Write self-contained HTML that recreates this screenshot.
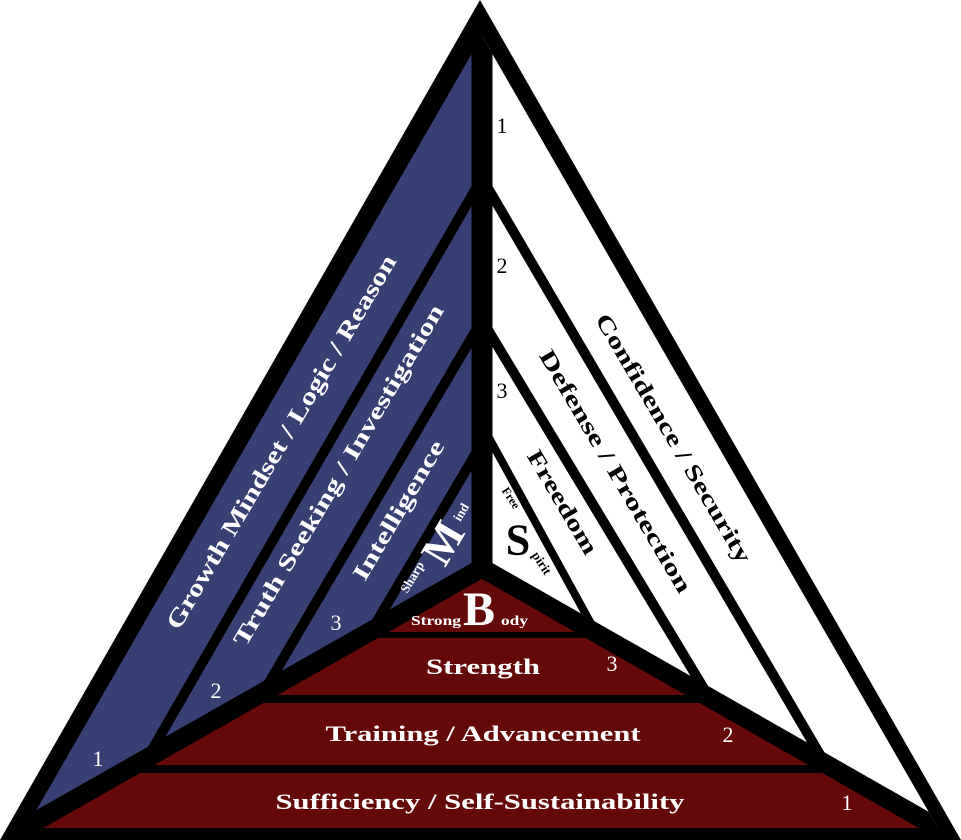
<!DOCTYPE html>
<html><head><meta charset="utf-8"><style>
html,body{margin:0;padding:0;background:#fff;width:961px;height:840px;overflow:hidden}
svg{display:block}
text{font-family:"Liberation Serif",serif;font-weight:bold}
.n{font-weight:normal;font-size:22px}
</style></head><body>
<svg width="961" height="840" viewBox="0 0 961 840">
<defs>
<clipPath id="in"><polygon points="26,828 482,36 938,828"/></clipPath>
<clipPath id="bl"><polygon points="482,0 482,568 0,840"/></clipPath>
<clipPath id="wh"><polygon points="482,0 961,840 482,568"/></clipPath>
<clipPath id="rd"><polygon points="0,840 482,568 961,840"/></clipPath>
</defs>
<polygon points="0,840 480,0 961,840" fill="#000"/>
<g clip-path="url(#in)">
<polygon points="482,0 482,568 0,840" fill="#383f73"/>
<polygon points="482,0 961,840 482,568" fill="#fff"/>
<polygon points="0,840 482,568 961,840" fill="#650808"/>
<g stroke="#000" fill="none" clip-path="url(#bl)">
<line x1="482" y1="178" x2="100" y2="840" stroke-width="10"/>
<line x1="482" y1="320" x2="200" y2="800" stroke-width="10"/>
<line x1="482" y1="443" x2="300" y2="752" stroke-width="10"/>
</g>
<g stroke="#000" fill="none" clip-path="url(#wh)">
<line x1="482" y1="178" x2="870" y2="840" stroke-width="10"/>
<line x1="482" y1="320" x2="780" y2="815" stroke-width="10"/>
<line x1="482" y1="425" x2="600" y2="640" stroke-width="8"/>
</g>
<g stroke="#000" fill="none" clip-path="url(#rd)">
<line x1="0" y1="635" x2="961" y2="635" stroke-width="6"/>
<line x1="0" y1="699" x2="961" y2="699" stroke-width="8"/>
<line x1="0" y1="769" x2="961" y2="769" stroke-width="8"/>
</g>
<g stroke="#000" fill="none">
<line x1="482" y1="0" x2="482" y2="570" stroke-width="21"/>
<line x1="482" y1="568" x2="10" y2="836" stroke-width="19"/>
<line x1="482" y1="568" x2="952" y2="836" stroke-width="19"/>
</g>
</g>
<g fill="#fff">
<text transform="translate(288,446) rotate(-59.5)" font-size="24" text-anchor="middle" textLength="430" lengthAdjust="spacingAndGlyphs">Growth Mindset / Logic / Reason</text>
<text transform="translate(345,479) rotate(-59.5)" font-size="23" text-anchor="middle" textLength="392" lengthAdjust="spacingAndGlyphs">Truth Seeking / Investigation</text>
<text transform="translate(405,514) rotate(-59.5)" font-size="23" text-anchor="middle" textLength="158" lengthAdjust="spacingAndGlyphs">Intelligence</text>
<text transform="translate(412,577) rotate(-59.5)" font-size="13" text-anchor="middle" dominant-baseline="central">Sharp</text>
<text transform="translate(443,543) rotate(-59.5)" font-size="44" text-anchor="middle" dominant-baseline="central">M</text>
<text transform="translate(461,512) rotate(-59.5)" font-size="13" text-anchor="middle" dominant-baseline="central">ind</text>
<text x="411" y="625" font-size="14" textLength="50" lengthAdjust="spacingAndGlyphs">Strong</text>
<text x="463" y="625" font-size="48">B</text>
<text x="501" y="625" font-size="14" textLength="27" lengthAdjust="spacingAndGlyphs">ody</text>
<text x="483" y="674" font-size="22" text-anchor="middle" textLength="114" lengthAdjust="spacingAndGlyphs">Strength</text>
<text x="483" y="741" font-size="22" text-anchor="middle" textLength="315" lengthAdjust="spacingAndGlyphs">Training / Advancement</text>
<text x="480" y="809" font-size="22" text-anchor="middle" textLength="409" lengthAdjust="spacingAndGlyphs">Sufficiency / Self-Sustainability</text>
<text class="n" x="98" y="766" text-anchor="middle">1</text>
<text class="n" x="216" y="698" text-anchor="middle">2</text>
<text class="n" x="336" y="630" text-anchor="middle">3</text>
<text class="n" x="612" y="671" text-anchor="middle">3</text>
<text class="n" x="728" y="742" text-anchor="middle">2</text>
<text class="n" x="847" y="810" text-anchor="middle">1</text>
</g>
<g fill="#000">
<text transform="translate(667,442) rotate(59.5)" font-size="23" text-anchor="middle" textLength="285" lengthAdjust="spacingAndGlyphs">Confidence / Security</text>
<text transform="translate(609,475) rotate(59.5)" font-size="23" text-anchor="middle" textLength="278" lengthAdjust="spacingAndGlyphs">Defense / Protection</text>
<text transform="translate(556,506) rotate(59.5)" font-size="23" text-anchor="middle" textLength="117" lengthAdjust="spacingAndGlyphs">Freedom</text>
<text transform="translate(511,498) rotate(57)" font-size="12" text-anchor="middle" dominant-baseline="central">Free</text>
<text x="518" y="540" font-size="44" text-anchor="middle" dominant-baseline="central">S</text>
<text transform="translate(542,563) rotate(57)" font-size="13" text-anchor="middle" dominant-baseline="central">pirit</text>
<text class="n" x="502" y="133" text-anchor="middle">1</text>
<text class="n" x="502" y="273" text-anchor="middle">2</text>
<text class="n" x="502" y="398" text-anchor="middle">3</text>
</g>
</svg>
</body></html>
